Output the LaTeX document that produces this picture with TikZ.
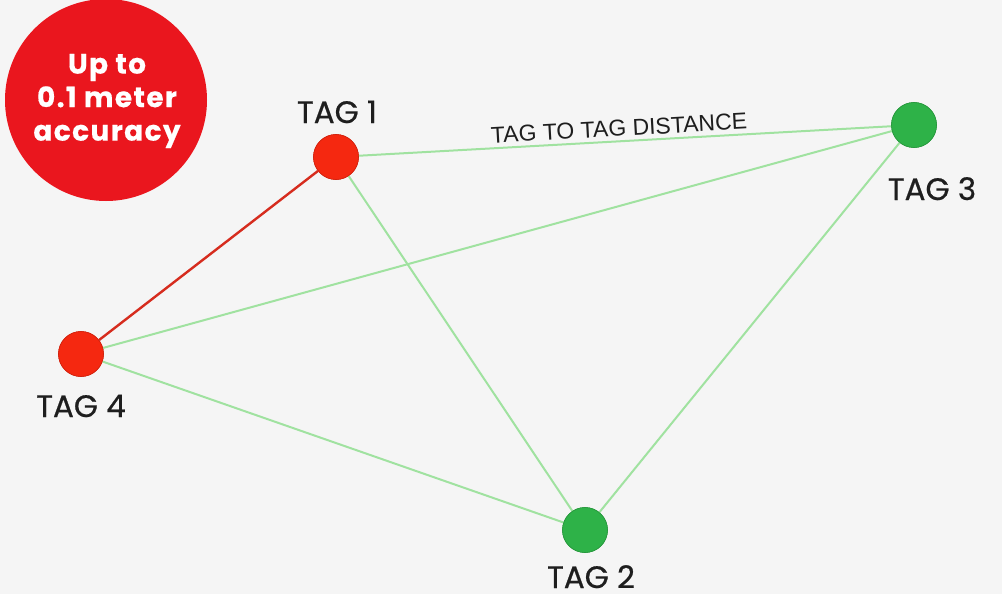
\documentclass[tikz,border=0pt]{standalone}
\usepackage{fontspec}
\setmainfont{Poppins}
\newfontfamily\lsans{Liberation Sans}
\newfontfamily\tagfont[FakeBold=0.6]{Poppins}
\newfontfamily\badgefont[LetterSpace=5,FakeBold=0.5]{Poppins Bold}
\definecolor{bgc}{RGB}{245,245,245}
\definecolor{bigred}{RGB}{234,22,30}
\definecolor{tagredc}{RGB}{245,40,16}
\definecolor{taggreenc}{RGB}{46,178,72}
\definecolor{linegreen}{RGB}{160,226,160}
\definecolor{linered}{RGB}{214,44,30}
\definecolor{txt}{RGB}{30,30,30}
\begin{document}
\begin{tikzpicture}[x=1pt,y=-1pt,
  tagred/.style={circle, fill=tagredc, draw=tagredc!85!black, line width=0.6pt, minimum size=45pt, inner sep=0pt},
  taggreen/.style={circle, fill=taggreenc, draw=taggreenc!85!black, line width=0.6pt, minimum size=45pt, inner sep=0pt},
  taglabel/.style={font=\tagfont\fontsize{31}{31}\selectfont, text=txt, inner sep=0pt, anchor=base},
  gline/.style={draw=linegreen, line width=2pt},
  rline/.style={draw=linered, line width=2.4pt}]
\fill[bgc] (0,0) rectangle (1002,594);
\useasboundingbox (0,0) rectangle (1002,594);
% accuracy badge
\node[circle, fill=bigred, minimum size=202pt, inner sep=0pt] (badge) at (106,100) {};
\node[text=white, font=\badgefont\fontsize{28}{33.5}\selectfont, align=center, inner sep=0pt] (badgetext) at (107,101) {Up to\\0.1 meter\\accuracy};
% tags
\node[tagred] (t1) at (336,157) {};
\node[taggreen] (t3) at (914,125) {};
\node[tagred] (t4) at (81,354) {};
\node[taggreen] (t2) at (585,530) {};
% connectors
\draw[gline] (t1) -- node[sloped, above=4pt, pos=0.49, font=\lsans\fontsize{23}{23}\selectfont, text=txt, inner sep=0pt] (dist) {TAG TO TAG DISTANCE} (t3);
\draw[gline] (t1) -- (t2);
\draw[gline] (t4) -- (t3);
\draw[gline] (t4) -- (t2);
\draw[gline] (t2) -- (t3);
\draw[rline] (t1) -- (t4);
% redraw tags on top
\node[tagred] at (t1) {};
\node[taggreen] at (t3) {};
\node[tagred] at (t4) {};
\node[taggreen] at (t2) {};
% labels
\node[taglabel] (l1) at (337,123) {TAG 1};
\node[taglabel] (l3) at (932,200) {TAG 3};
\node[taglabel] (l4) at (81,417) {TAG 4};
\node[taglabel] (l2) at (591,588) {TAG 2};
\end{tikzpicture}
\end{document}
